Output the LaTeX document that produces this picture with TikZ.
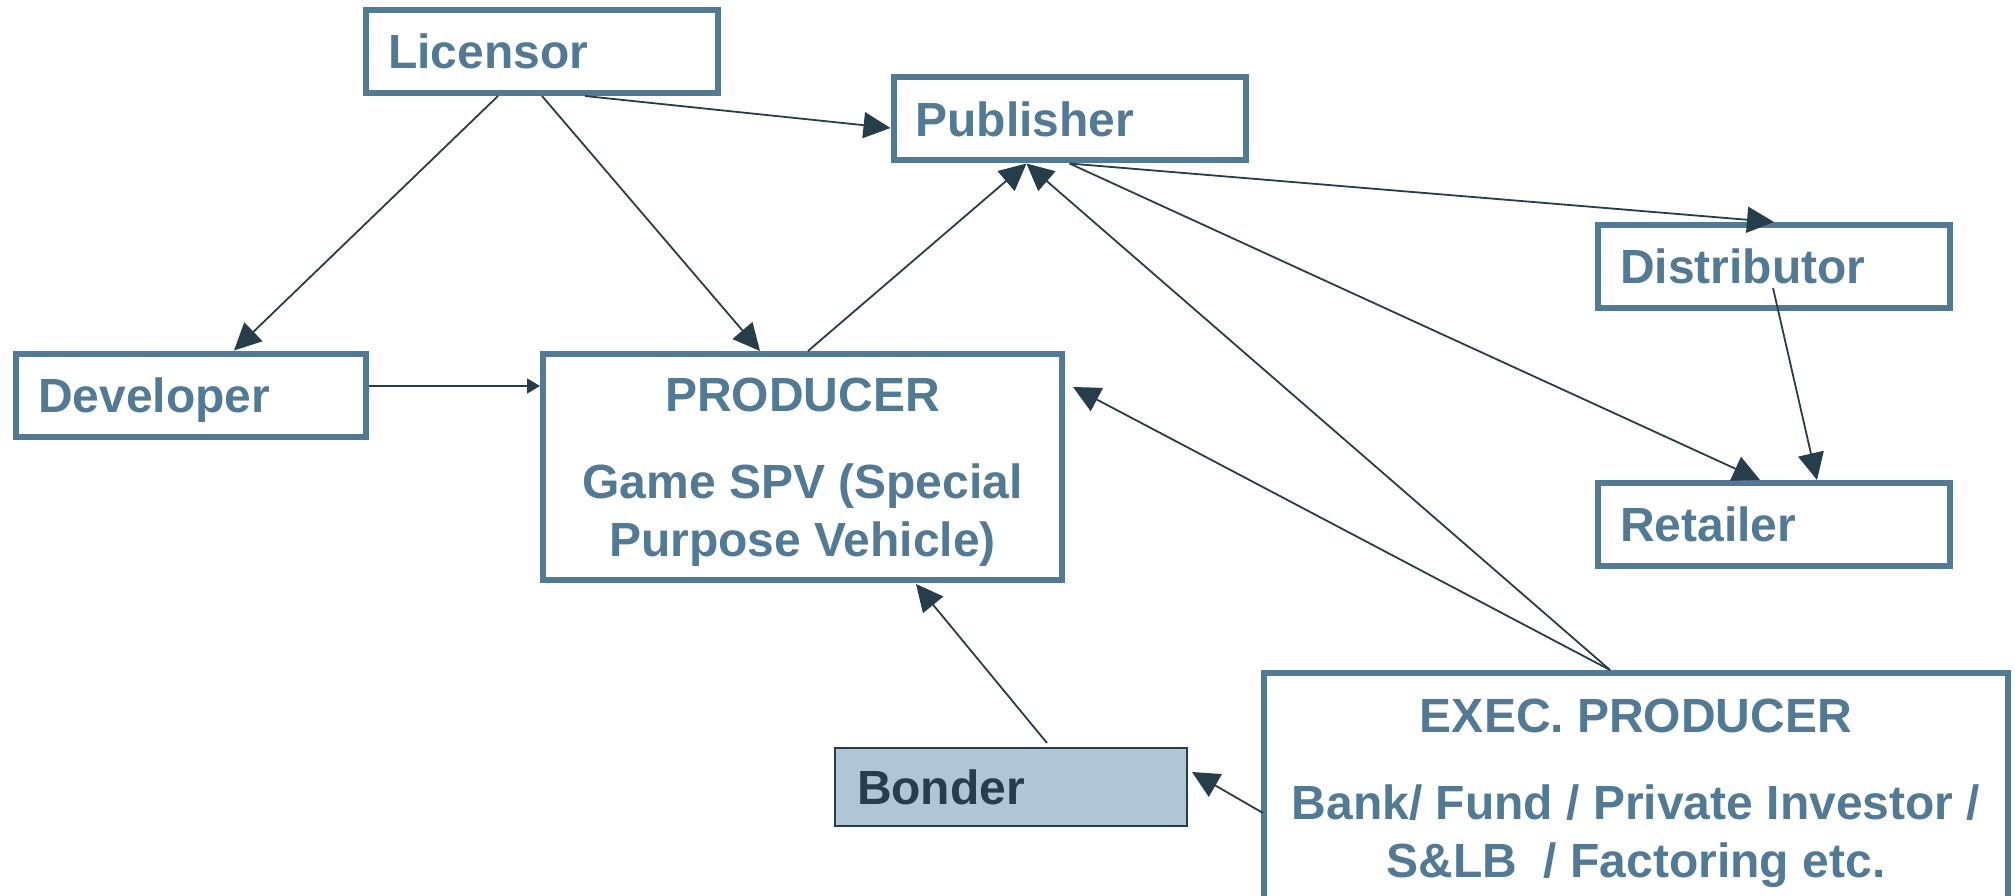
\documentclass[tikz,border=0pt]{standalone}
\usepackage{fontspec}
\setmainfont{Liberation Sans}
\usetikzlibrary{arrows.meta,calc}

\begin{document}
\begin{tikzpicture}[x=1pt,y=-1pt]

% definiciones
\definecolor{azul}{HTML}{527A94}
\definecolor{oscuro}{HTML}{263D4A}
\definecolor{relleno}{HTML}{B0C6D4}

% area del dibujo
\useasboundingbox (0,0) rectangle (2015,896);

% estilos de linea y relleno
\tikzstyle{caja}   = [rectangle,draw=azul,line width=6pt,text=azul,
                      font=\fontsize{48}{58}\selectfont\bfseries]
\tikzstyle{simple} = [caja,minimum width=352pt,minimum height=83pt,
                      text width=308pt,inner xsep=22pt,align=left,
                      text height=34.4pt,text depth=0pt]
\tikzstyle{doble}  = [caja,align=center,text depth=0pt]
\tikzstyle{flecha} = [draw=oscuro,line width=1.8pt,-{Triangle[length=27pt,width=26pt]}]

% cajas
\node[simple] (lic)  at (542,51.5)   {Licensor};
\node[simple] (pub)  at (1069.5,119) {Publisher};
\node[simple] (dist) at (1774,266.5) {Distributor};
\node[simple] (ret)  at (1774,524.5) {Retailer};
\node[simple,minimum width=350pt,text width=306pt] (dev) at (191,395) {Developer};
\node[doble,minimum width=519pt,minimum height=226pt] (prod) at (802.5,467)
  {PRODUCER\\[29pt]Game SPV (Special\\Purpose Vehicle)};
\node[simple,line width=2pt,draw=oscuro,fill=relleno,text=oscuro,
      minimum height=78pt] (bond) at (1011,787) {Bonder};
\node[doble,minimum width=744pt,minimum height=231pt] (exec) at (1636,788.5)
  {EXEC. PRODUCER\\[29pt]Bank/ Fund / Private Investor /\\S\&LB\ \ / Factoring etc.};

% conexiones
\draw[flecha] ($(lic.south)+(43,0)$) -- ($(pub.west)+(0,9)$);
\draw[flecha] ($(lic.south)+(-44,0)$) -- ($(dev.north)+(43,0)$);
\draw[flecha] (lic.south) -- ($(prod.north)+(-42.5,0)$);
\coordinate (d1) at ($(dev.east)+(0,-9)$);
\draw[flecha,-{Triangle[length=13pt,width=15pt]}] (d1) -- (d1 -| prod.west);
\draw[flecha] ($(prod.north)+(5.5,0)$) -- ($(pub.south)+(-43,0)$);
\draw[flecha] (pub.south) -- (dist.north);
\draw[flecha] (pub.south) -- ($(ret.north)+(-14,0)$);
\draw[flecha] ($(dist.south)+(-1,-23)$) -- ($(ret.north)+(43,0)$);
\draw[flecha] ($(exec.north)+(-26,0)$) -- ($(pub.south)+(-43,0)$);
\draw[flecha] ($(exec.north)+(-26,0)$) -- ($(prod.east)+(8,-80)$);
\draw[flecha] ($(bond.north)+(36,-4)$) -- ($(prod.south)+(113.5,1)$);
\draw[flecha] ($(exec.west)+(2,24.5)$) -- ($(bond.east)+(4,-15)$);

\end{tikzpicture}
\end{document}
